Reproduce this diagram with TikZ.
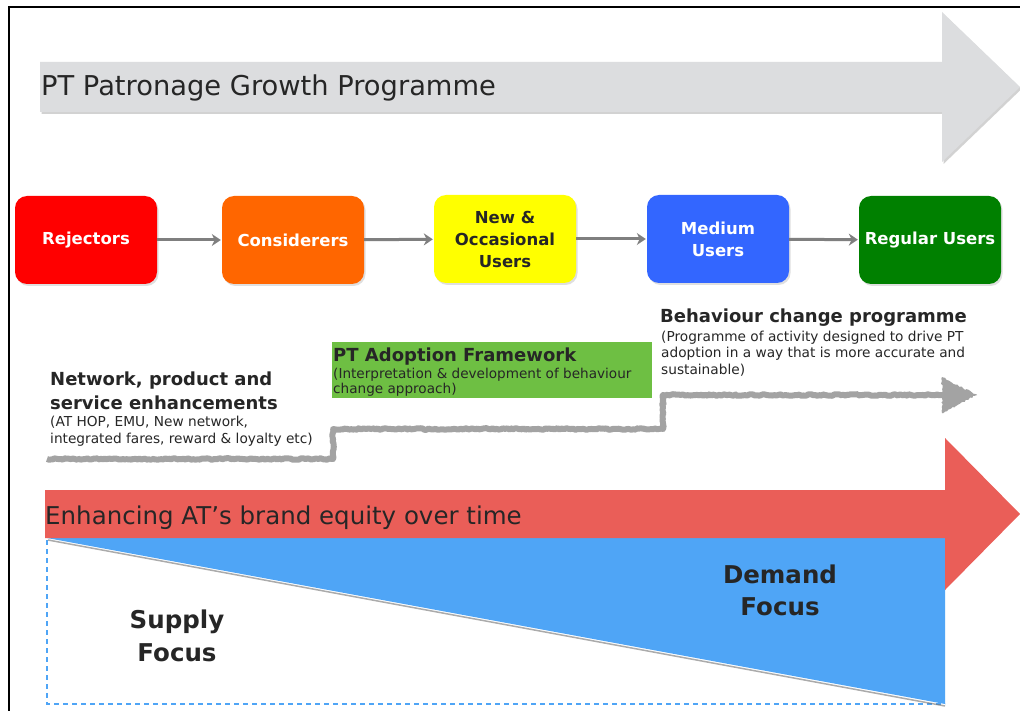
\documentclass[tikz,border=0pt]{standalone}
\usepackage{fontspec}
\setmainfont{DejaVu Sans}
\usetikzlibrary{shadows,decorations.pathmorphing,arrows.meta}
\definecolor{txt}{HTML}{262626}
\definecolor{bargray}{HTML}{DCDDDF}
\definecolor{redarrow}{HTML}{EA5E58}
\definecolor{bluetri}{HTML}{4FA5F6}
\definecolor{fwgreen}{HTML}{6EBF43}
\definecolor{cRej}{HTML}{FF0000}
\definecolor{cCon}{HTML}{FF6600}
\definecolor{cNew}{HTML}{FFFF00}
\definecolor{cMed}{HTML}{3366FF}
\definecolor{cReg}{HTML}{008000}
\definecolor{connc}{HTML}{7F7F7F}
\definecolor{chalkc}{HTML}{A3A3A3}
\tikzset{
  userbox/.style={rounded corners=12pt, minimum width=142pt, minimum height=88pt,
    inner sep=2pt, align=center, text=white,
    font=\fontsize{16.5}{22}\selectfont\bfseries,
    drop shadow={opacity=0.25, shadow xshift=1.5pt, shadow yshift=-2pt}},
  conn/.style={draw=connc, line width=3pt, -{Stealth[length=9pt,width=12pt]}, shorten >=1pt},
  chalk/.style={draw=chalkc, line width=6pt, line join=round,
    decorate, decoration={random steps, segment length=2pt, amplitude=0.8pt}},
  btitle/.style={anchor=base west, inner sep=0pt, text=txt, font=\fontsize{18}{24}\selectfont\bfseries},
  bsub/.style={anchor=base west, inner sep=0pt, text=txt, align=left, font=\fontsize{13.7}{16.3}\selectfont},
  focus/.style={inner sep=0pt, text=txt, align=center, font=\fontsize{24.5}{33}\selectfont\bfseries}
}
\begin{document}
\begin{tikzpicture}[x=1pt,y=-1pt]
\useasboundingbox (0,0) rectangle (1020,711);
\fill[white] (0,0) rectangle (1020,711);
% frame
\draw[line width=2pt] (9,711) -- (9,7) -- (1020,7);

% top grey arrow
\fill[bargray, drop shadow={opacity=0.35, shadow xshift=1.5pt, shadow yshift=-2pt}]
  (40,62) -- (942,62) -- (942,12) -- (1020,87) -- (942,162) -- (942,112) -- (40,112) -- cycle;
\node[anchor=base west, inner sep=0pt, text=txt, font=\fontsize{27.3}{32}\selectfont] (title) at (41,96) {PT Patronage Growth Programme};

% user stages
\node[userbox, fill=cRej] (rej) at (86,240) {Rejectors};
\node[userbox, fill=cCon] (con) at (293,240) {Considerers};
\node[userbox, fill=cNew, text=txt] (new) at (505,239) {New \&\\Occasional\\Users};
\node[userbox, fill=cMed] (med) at (718,239) {Medium\\Users};
\node[userbox, fill=cReg] (reg) at (930,240) {Regular Users};
\draw[conn] (rej) -- (con);
\draw[conn] (con) -- (new);
\draw[conn] (new) -- (med);
\draw[conn] (med) -- (reg);

% green framework box
\node[fill=fwgreen, anchor=north west, minimum width=320pt, minimum height=56pt, inner sep=0pt] (fwbox) at (332,342) {};

% text blocks (multi-line nodes: base = last line's baseline)
\node[btitle] (nettitle) at (50,385) {Network, product and};
\node[btitle] (nettitle2) at (50,409) {service enhancements};
\node[bsub] (netsub) at (50,443) {(AT HOP, EMU, New network,\\integrated fares, reward \& loyalty etc)};

\node[btitle] (fwtitle) at (333,361) {PT Adoption Framework};
\node[bsub, font=\fontsize{13.6}{15}\selectfont] (fwsub) at (333,393) {(Interpretation \& development of behaviour\\change approach)};

\node[btitle] (bctitle) at (660,323) {Behaviour change programme};
\node[bsub] (bcsub) at (661,374) {(Programme of activity designed to drive PT\\adoption in a way that is more accurate and\\sustainable)};

% chalky step line
\coordinate (s0) at (47,459);
\coordinate (s1) at (333,459);
\coordinate (s2) at (333,429);
\coordinate (s3) at (663,429);
\coordinate (s4) at (663,395);
\coordinate (s5) at (946,395);
\coordinate (h1) at (942,377);
\coordinate (h2) at (977,395);
\coordinate (h3) at (942,413);
\draw[chalk] (s0) -- (s1) -- (s2) -- (s3) -- (s4) -- (s5);
\fill[chalkc, decorate, decoration={random steps, segment length=2pt, amplitude=1pt}] (h1) -- (h2) -- (h3) -- cycle;

% blue triangle & dashed outline
\draw[bluetri, line width=2pt, dash pattern=on 5pt off 4pt] (47,540) -- (47,704) -- (945,704);
\draw[black!55, line width=1.5pt, opacity=0.6] (48,540) -- (945,706);
\fill[bluetri] (47,538) -- (945,538) -- (945,704) -- cycle;

% red arrow
\fill[redarrow] (45,490) -- (945,490) -- (945,438) -- (1020,514) -- (945,590) -- (945,538) -- (45,538) -- cycle;
\node[anchor=base west, inner sep=0pt, text=txt, font=\fontsize{24.5}{28}\selectfont] (brand) at (45,524) {Enhancing AT’s brand equity over time};

\node[focus] (supply) at (177,636) {Supply\\Focus};
\node[focus, font=\fontsize{24.5}{32}\selectfont\bfseries] (demand) at (780,590) {Demand\\Focus};
\end{tikzpicture}
\end{document}
